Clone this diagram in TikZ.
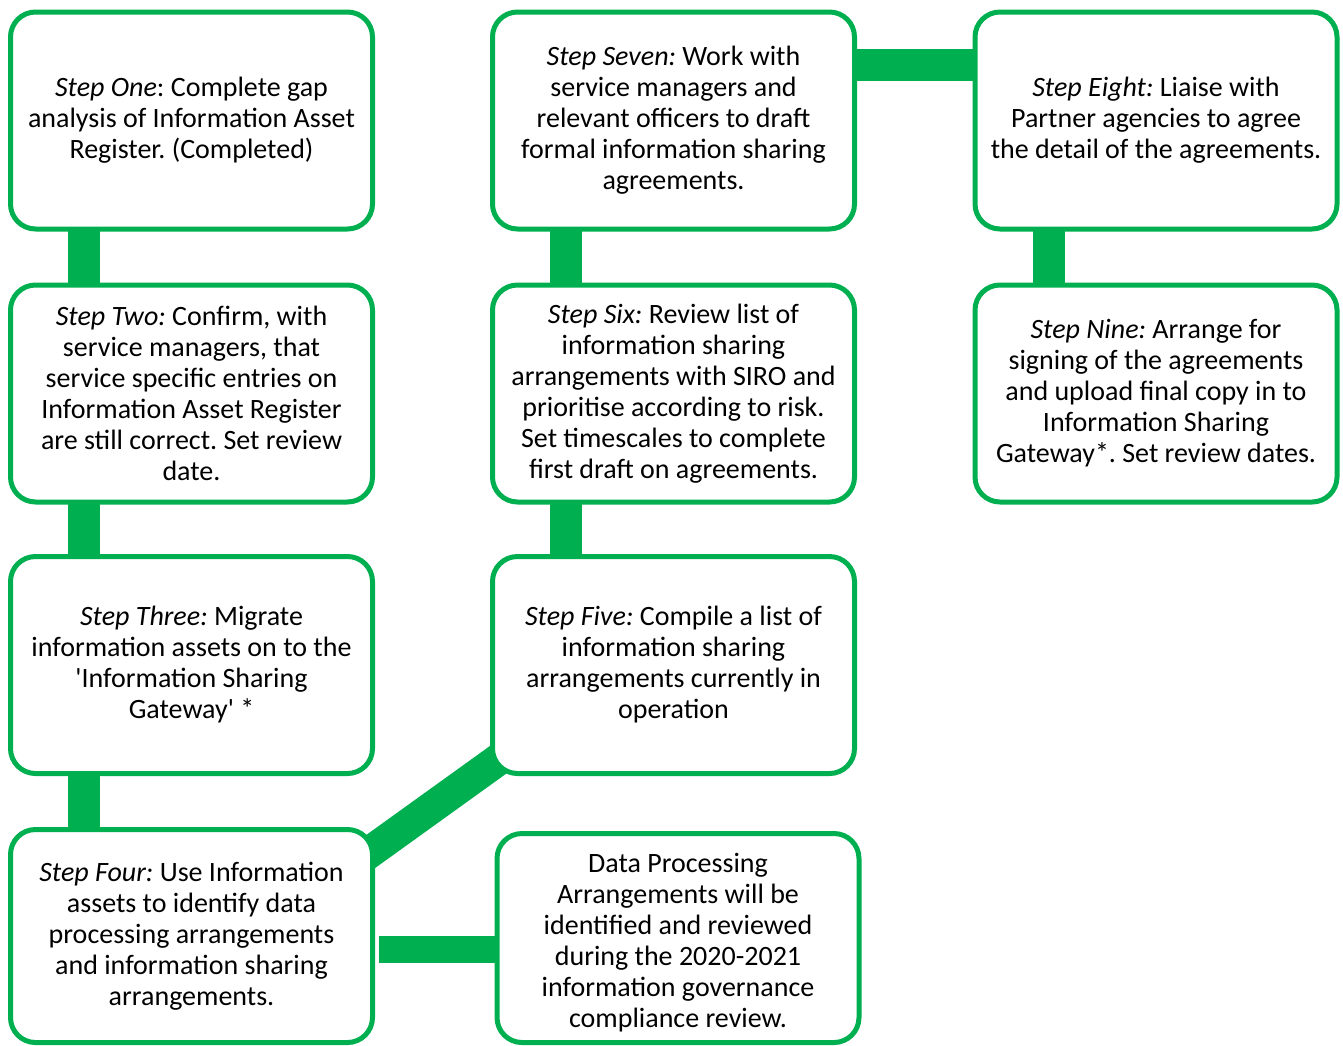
\documentclass[tikz,border=0pt]{standalone}
\usepackage{fontspec}
\setmainfont{Carlito}[Ligatures=TeXOff]
\frenchspacing
\usepackage{tikz}
\usetikzlibrary{positioning,calc,backgrounds}
\definecolor{stepgreen}{RGB}{0,176,80}

\begin{document}
\begin{tikzpicture}[x=1pt, y=-1pt, font=\fontsize{28}{31}\selectfont,
    stepbox/.style={draw=stepgreen, line width=5pt, fill=white, rounded corners=25pt,
      minimum width=362pt, minimum height=217pt, inner sep=0pt, outer sep=0pt, align=center},
    bar/.style={stepgreen, line width=32pt}]
    \useasboundingbox (0,0) rectangle (1343,1045);
    % left column
    \node[stepbox] (step1) at (191.5,120.5)
      {\textit{Step One}: Complete gap\\analysis of Information Asset\\Register. (Completed)};
    \node[stepbox] (step2) at (191.5,393.5)
      {\textit{Step Two:} Confirm, with\\service managers, that\\service specific entries on\\Information Asset Register\\are still correct. Set review\\date.};
    \node[stepbox] (step3) at (191.5,665)
      {\textit{Step Three:} Migrate\\information assets on to the\\'Information Sharing\\Gateway' *};
    \node[stepbox, minimum height=213pt] (step4) at (191.5,936)
      {\textit{Step Four:} Use Information\\assets to identify data\\processing arrangements\\and information sharing\\arrangements.};
    % middle column
    \node[stepbox] (step5) at (673.5,665)
      {\textit{Step Five:} Compile a list of\\information sharing\\arrangements currently in\\operation};
    \node[stepbox] (step6) at (673.5,393.5)
      {\textit{Step Six:} Review list of\\information sharing\\arrangements with SIRO and\\prioritise according to risk.\\Set timescales to complete\\first draft on agreements.};
    \node[stepbox] (step7) at (673.5,120.5)
      {\textit{Step Seven:} Work with\\service managers and\\relevant officers to draft\\formal information sharing\\agreements.};
    \node[stepbox, minimum height=209pt] (dpa) at (678,938)
      {\rule{0pt}{29pt}Data Processing\\Arrangements will be\\identified and reviewed\\during the 2020-2021\\information governance\\compliance review.};
    % right column
    \node[stepbox] (step8) at (1156,120.5)
      {\textit{Step Eight:} Liaise with\\Partner agencies to agree\\the detail of the agreements.};
    \node[stepbox] (step9) at (1156,393.5)
      {\textit{Step Nine:} Arrange for\\signing of the agreements\\and upload final copy in to\\Information Sharing\\Gateway*. Set review dates.};
    % connectors
    \begin{scope}[on background layer]
      \draw[bar] ($(step1.south)+(-108,0)$) -- ($(step2.north)+(-108,0)$);
      \draw[bar] ($(step2.south)+(-108,0)$) -- ($(step3.north)+(-108,0)$);
      \draw[bar] ($(step3.south)+(-108,0)$) -- ($(step4.north)+(-108,0)$);
      \draw[bar] ($(step4.north east)+(-22,36.5)$) -- ($(step5.south west)+(22,-25.5)$);
      \draw[bar] ($(step5.north)+(-107.5,0)$) -- ($(step6.south)+(-107.5,0)$);
      \draw[bar] ($(step6.north)+(-107.5,0)$) -- ($(step7.south)+(-107.5,0)$);
      \draw[bar] ($(step7.east)+(0,-56)$) -- ($(step8.west)+(0,-56)$);
      \draw[bar] ($(step8.south)+(-107,0)$) -- ($(step9.north)+(-107,0)$);
      \draw[bar, line width=27pt] ($(step4.east)+(6.5,13.5)$) -- ($(dpa.west)+(0,11.5)$);
    \end{scope}
  \end{tikzpicture}
\end{document}
